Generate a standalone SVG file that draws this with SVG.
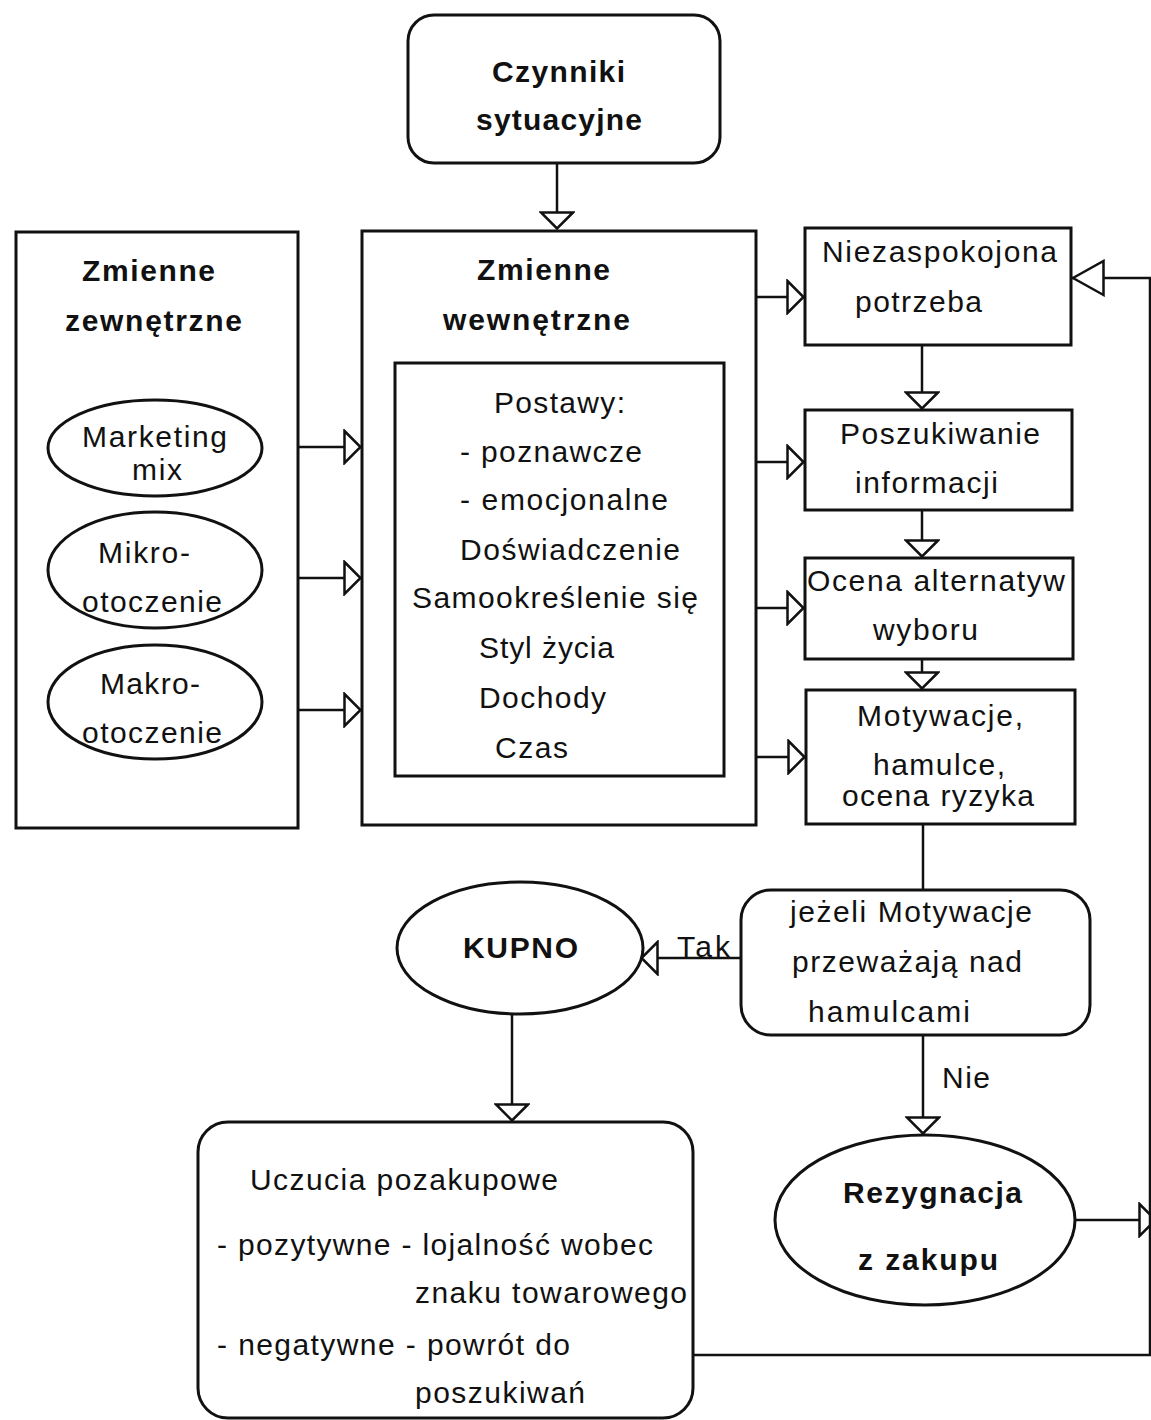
<svg xmlns="http://www.w3.org/2000/svg" width="1151" height="1420" viewBox="0 0 1151 1420">
  <style>
    .box { fill: #fff; stroke: #111; stroke-width: 3; }
    .line { fill: none; stroke: #111; stroke-width: 2.5; }
    text { font-family: "Liberation Sans", Arial, sans-serif; font-size: 30px; fill: #111; }
    .b { font-weight: bold; }
  </style>
  <defs>
    <marker id="tri" viewBox="0 0 19 36" refX="18" refY="18" markerWidth="19" markerHeight="36" markerUnits="userSpaceOnUse" orient="auto">
      <path d="M1.5,2 L17.5,18 L1.5,34 Z" fill="#fff" stroke="#111" stroke-width="2.5"/>
    </marker>
    <marker id="triBig" viewBox="0 0 34 38" refX="33" refY="19" markerWidth="34" markerHeight="38" markerUnits="userSpaceOnUse" orient="auto">
      <path d="M1.5,2 L32,19 L1.5,36 Z" fill="#fff" stroke="#111" stroke-width="2.5"/>
    </marker>
  </defs>

  <rect width="1151" height="1420" fill="#fff"/>

  <!-- connectors -->
  <g id="connectors">
    <path class="line" d="M557,163 V229" marker-end="url(#tri)"/>
    <path class="line" d="M263,447 H361" marker-end="url(#tri)"/>
    <path class="line" d="M263,578 H361" marker-end="url(#tri)"/>
    <path class="line" d="M263,710 H361" marker-end="url(#tri)"/>
    <path class="line" d="M756,297 H804" marker-end="url(#tri)"/>
    <path class="line" d="M756,462 H804" marker-end="url(#tri)"/>
    <path class="line" d="M756,608 H804" marker-end="url(#tri)"/>
    <path class="line" d="M756,757 H805" marker-end="url(#tri)"/>
    <path class="line" d="M922,345 V409" marker-end="url(#tri)"/>
    <path class="line" d="M922,510 V557" marker-end="url(#tri)"/>
    <path class="line" d="M922,659 V689" marker-end="url(#tri)"/>
    <path class="line" d="M923,824 V890"/>
    <path class="line" d="M741,958 H641" marker-end="url(#tri)"/>
    <path class="line" d="M512,1015 V1121" marker-end="url(#tri)"/>
    <path class="line" d="M923,1035 V1134" marker-end="url(#tri)"/>
    <path class="line" d="M1075,1220 H1156" marker-end="url(#tri)"/>
    <path class="line" d="M693,1355 H1150 V278 H1072" marker-end="url(#triBig)"/>
    <text x="677" y="957" textLength="53" lengthAdjust="spacing">Tak</text>
    <text x="942" y="1088" textLength="48" lengthAdjust="spacing">Nie</text>
  </g>

  <!-- situational factors -->
  <g id="czynniki">
    <rect class="box" x="408" y="15" width="312" height="148" rx="26"/>
    <text class="b" x="492" y="82" textLength="133" lengthAdjust="spacing">Czynniki</text>
    <text class="b" x="476" y="130" textLength="166" lengthAdjust="spacing">sytuacyjne</text>
  </g>

  <!-- external variables -->
  <g id="zewnetrzne">
    <rect class="box" x="16" y="232" width="282" height="596"/>
    <text class="b" x="82" y="281" textLength="133" lengthAdjust="spacing">Zmienne</text>
    <text class="b" x="65" y="331" textLength="177" lengthAdjust="spacing">zewnętrzne</text>
  </g>

  <g id="marketing-mix">
    <ellipse class="box" cx="155" cy="448" rx="107" ry="48"/>
    <text x="82" y="447" textLength="145" lengthAdjust="spacing">Marketing</text>
    <text x="132" y="480" textLength="50" lengthAdjust="spacing">mix</text>
  </g>

  <g id="mikro">
    <ellipse class="box" cx="155" cy="570" rx="107" ry="58"/>
    <text x="98" y="563" textLength="92" lengthAdjust="spacing">Mikro-</text>
    <text x="82" y="612" textLength="140" lengthAdjust="spacing">otoczenie</text>
  </g>

  <g id="makro">
    <ellipse class="box" cx="155" cy="702" rx="107" ry="57"/>
    <text x="100" y="694" textLength="100" lengthAdjust="spacing">Makro-</text>
    <text x="82" y="743" textLength="140" lengthAdjust="spacing">otoczenie</text>
  </g>

  <!-- internal variables -->
  <g id="wewnetrzne">
    <rect class="box" x="362" y="231" width="394" height="594"/>
    <text class="b" x="477" y="280" textLength="133" lengthAdjust="spacing">Zmienne</text>
    <text class="b" x="443" y="330" textLength="187" lengthAdjust="spacing">wewnętrzne</text>
  </g>

  <g id="postawy">
    <rect class="box" x="395" y="363" width="329" height="413"/>
    <text x="494" y="413" textLength="131" lengthAdjust="spacing">Postawy:</text>
    <text x="460" y="462" textLength="182" lengthAdjust="spacing">- poznawcze</text>
    <text x="460" y="510" textLength="208" lengthAdjust="spacing">- emocjonalne</text>
    <text x="460" y="560" textLength="220" lengthAdjust="spacing">Doświadczenie</text>
    <text x="412" y="608" textLength="286" lengthAdjust="spacing">Samookreślenie się</text>
    <text x="479" y="658" textLength="135" lengthAdjust="spacing">Styl życia</text>
    <text x="479" y="708" textLength="127" lengthAdjust="spacing">Dochody</text>
    <text x="495" y="758" textLength="73" lengthAdjust="spacing">Czas</text>
  </g>

  <!-- decision stages -->
  <g id="potrzeba">
    <rect class="box" x="805" y="228" width="266" height="117"/>
    <text x="822" y="262" textLength="235" lengthAdjust="spacing">Niezaspokojona</text>
    <text x="855" y="312" textLength="127" lengthAdjust="spacing">potrzeba</text>
  </g>

  <g id="poszukiwanie">
    <rect class="box" x="805" y="410" width="267" height="100"/>
    <text x="840" y="444" textLength="200" lengthAdjust="spacing">Poszukiwanie</text>
    <text x="855" y="493" textLength="143" lengthAdjust="spacing">informacji</text>
  </g>

  <g id="ocena">
    <rect class="box" x="805" y="558" width="268" height="101"/>
    <text x="807" y="591" textLength="258" lengthAdjust="spacing">Ocena alternatyw</text>
    <text x="873" y="640" textLength="105" lengthAdjust="spacing">wyboru</text>
  </g>

  <g id="motywacje">
    <rect class="box" x="806" y="690" width="269" height="134"/>
    <text x="857" y="726" textLength="166" lengthAdjust="spacing">Motywacje,</text>
    <text x="873" y="775" textLength="132" lengthAdjust="spacing">hamulce,</text>
    <text x="842" y="806" textLength="192" lengthAdjust="spacing">ocena ryzyka</text>
  </g>

  <g id="warunek">
    <rect class="box" x="741" y="890" width="349" height="145" rx="30"/>
    <text x="790" y="922" textLength="242" lengthAdjust="spacing">jeżeli Motywacje</text>
    <text x="792" y="972" textLength="230" lengthAdjust="spacing">przeważają nad</text>
    <text x="808" y="1022" textLength="162" lengthAdjust="spacing">hamulcami</text>
  </g>

  <g id="kupno">
    <ellipse class="box" cx="520" cy="948" rx="123" ry="66"/>
    <text class="b" x="463" y="958" textLength="115" lengthAdjust="spacing">KUPNO</text>
  </g>

  <g id="rezygnacja">
    <ellipse class="box" cx="925" cy="1220" rx="150" ry="85"/>
    <text class="b" x="843" y="1203" textLength="179" lengthAdjust="spacing">Rezygnacja</text>
    <text class="b" x="858" y="1270" textLength="140" lengthAdjust="spacing">z zakupu</text>
  </g>

  <g id="uczucia">
    <rect class="box" x="198" y="1122" width="495" height="296" rx="30"/>
    <text x="250" y="1190" textLength="308" lengthAdjust="spacing">Uczucia pozakupowe</text>
    <text x="217" y="1255" textLength="436" lengthAdjust="spacing">- pozytywne - lojalność wobec</text>
    <text x="415" y="1303" textLength="272" lengthAdjust="spacing">znaku towarowego</text>
    <text x="217" y="1355" textLength="353" lengthAdjust="spacing">- negatywne - powrót do</text>
    <text x="415" y="1403" textLength="170" lengthAdjust="spacing">poszukiwań</text>
  </g>
</svg>
